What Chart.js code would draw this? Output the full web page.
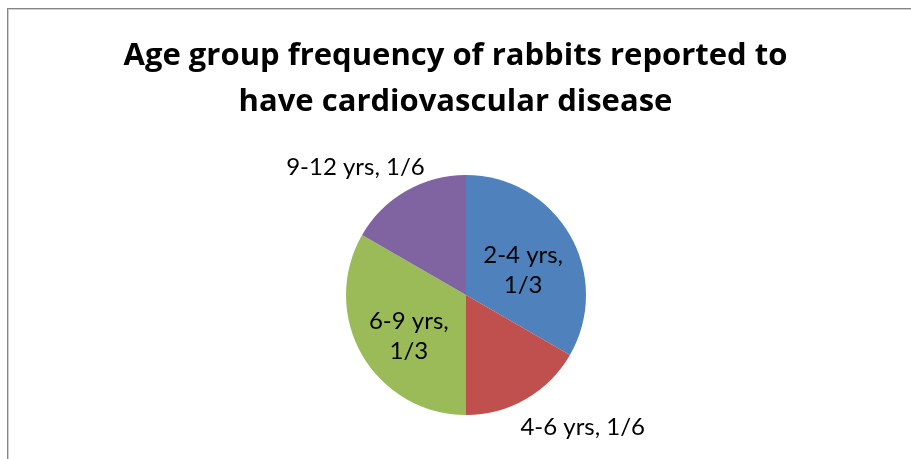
<!DOCTYPE html>
<html>
<head>
<meta charset="utf-8">
<script src="https://cdn.jsdelivr.net/npm/chart.js@4/dist/chart.umd.min.js"></script>
<style>
  html, body { margin: 0; padding: 0; background: #ffffff; }
  #wrap { width: 911px; height: 459px; position: relative; }
</style>
</head>
<body>
<div id="wrap"><canvas id="c" width="911" height="459"></canvas></div>
<script>
// ---- data ----
const TITLE_LINES = ["Age group frequency of rabbits reported to", "have cardiovascular disease"];
const categories = ["2-4 yrs", "4-6 yrs", "6-9 yrs", "9-12 yrs"];
const values = [2, 1, 2, 1];            // frequencies (thirds / sixths)
const fractionLabels = ["1/3", "1/6", "1/3", "1/6"];
const colors = ["#4F81BD", "#C0504D", "#9BBB59", "#8064A2"];
const labelInside = [true, false, true, false];

const frameAndLabels = {
  id: 'frameAndLabels',
  beforeDraw(chart) {
    const ctx = chart.ctx;
    ctx.save();
    ctx.fillStyle = '#ffffff';
    ctx.fillRect(0, 0, chart.width, chart.height);
    ctx.lineWidth = 1;
    ctx.strokeStyle = '#858585';
    ctx.strokeRect(7.5, 8.5, chart.width + 20, chart.height + 20);
    ctx.strokeStyle = '#cfcfcf';
    ctx.strokeRect(8.5, 9.5, chart.width + 20, chart.height + 20);
    ctx.restore();
  },
  afterDraw(chart) {
    const ctx = chart.ctx;
    ctx.save();
    // title
    ctx.fillStyle = '#000000';
    ctx.font = 'bold 31px "Open Sans"';
    ctx.textAlign = 'center';
    ctx.textBaseline = 'middle';
    TITLE_LINES.forEach((t, i) => ctx.fillText(t, chart.width / 2, 56 + i * 46));
    // data labels
    ctx.font = '24px Lato';
    const meta = chart.getDatasetMeta(0);
    meta.data.forEach((arc, i) => {
      const p = arc.getProps(['x', 'y', 'startAngle', 'endAngle', 'outerRadius'], true);
      const mid = (p.startAngle + p.endAngle) / 2;
      const dx = Math.cos(mid), dy = Math.sin(mid);
      const r = p.outerRadius;
      if (labelInside[i]) {
        const cx = p.x + dx * r * 0.55;
        const cy = p.y + dy * r * 0.55 + 8;
        ctx.textAlign = 'center';
        ctx.fillText(categories[i] + ',', cx, cy - 15);
        ctx.fillText(fractionLabels[i], cx, cy + 15);
      } else {
        const txt = categories[i] + ', ' + fractionLabels[i];
        const w = ctx.measureText(txt).width;
        const cx = p.x + dx * r * 1.28 + Math.sign(dx) * w * 0.28 + 5;
        const cy = p.y + dy * r * 1.25 + 2;
        ctx.textAlign = 'center';
        ctx.fillText(txt, cx, cy);
      }
    });
    ctx.restore();
  }
};

new Chart(document.getElementById('c'), {
  type: 'pie',
  data: {
    labels: categories,
    datasets: [{
      data: values,
      backgroundColor: colors,
      borderWidth: 0
    }]
  },
  options: {
    responsive: false,
    animation: false,
    layout: { padding: { top: 175, bottom: 44, left: 21, right: 0 } },
    plugins: {
      legend: { display: false },
      title: { display: false },
      tooltip: { enabled: false }
    }
  },
  plugins: [frameAndLabels]
});
</script>
</body>
</html>
